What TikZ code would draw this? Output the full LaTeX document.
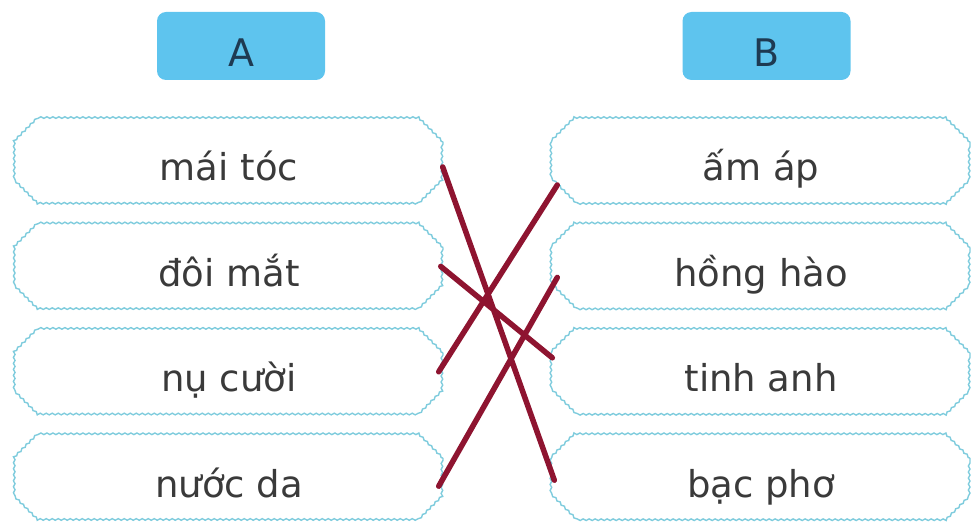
\documentclass[tikz,border=0pt]{standalone}
\usepackage{fontspec}
\setmainfont{DejaVu Sans}
\usepackage{tikz}
\usetikzlibrary{positioning, shapes.misc, decorations.pathmorphing}
\usepackage{xcolor}
\definecolor{headblue}{HTML}{5EC4EE}
\definecolor{headtext}{HTML}{1E3A52}
\definecolor{waveblue}{HTML}{7FCCDD}
\definecolor{linkred}{HTML}{8E1430}
\definecolor{wordgray}{HTML}{3A3A3A}

\begin{document}
\begin{tikzpicture}[x=1pt,y=1pt]
		\tikzset{
			wordbox/.style= {draw=waveblue, line width=1.4pt, chamfered rectangle, chamfered rectangle xsep=12pt,
				chamfered rectangle ysep=12pt, fill=white,
				decorate, decoration={snake, amplitude=0.8pt, segment length=6pt},
				minimum height=86pt, text height=40pt, text depth=0pt,
				text=wordgray, font=\fontsize{37}{42}\selectfont},
			head/.style = {fill=headblue, rounded corners=9pt, minimum width=168pt, minimum height=68pt,
				text height=42pt, text depth=0pt, text=headtext, font=\fontsize{38}{42}\selectfont},
			link/.style={draw=linkred, line width=5.5pt, line cap=round},
		}
		\useasboundingbox (0,0) rectangle (973,-529);

		%headers
		\node (hA) [head] at (241,-46) {A};
		\node (hB) [head] at (766.5,-46) {B};

		%column A
		\node (a1) [wordbox, minimum width=428pt] at (229,-161) {mái tóc};
		\node (a2) [wordbox, minimum width=428pt, below=18pt of a1] {đôi mắt};
		\node (a3) [wordbox, minimum width=428pt, below=18pt of a2] {nụ cười};
		\node (a4) [wordbox, minimum width=428pt, below=18pt of a3] {nước da};

		%column B
		\node (b1) [wordbox, minimum width=418pt] at (761,-161) {ấm áp};
		\node (b2) [wordbox, minimum width=418pt, below=18pt of b1] {hồng hào};
		\node (b3) [wordbox, minimum width=418pt, below=18pt of b2] {tinh anh};
		\node (b4) [wordbox, minimum width=418pt, below=18pt of b3] {bạc phơ};

		%matching lines
		\path[link] ([shift={(-1,-6)}]a1.east) -- ([shift={(3,-3)}]b4.west)
					([shift={(-3,0)}]a2.east) -- ([shift={(1,14)}]b3.west)
					([shift={(-5,0)}]a3.east) -- ([shift={(6,-24)}]b1.west)
					([shift={(-5,-9)}]a4.east) -- ([shift={(6,-11)}]b2.west);

	\end{tikzpicture}
\end{document}
